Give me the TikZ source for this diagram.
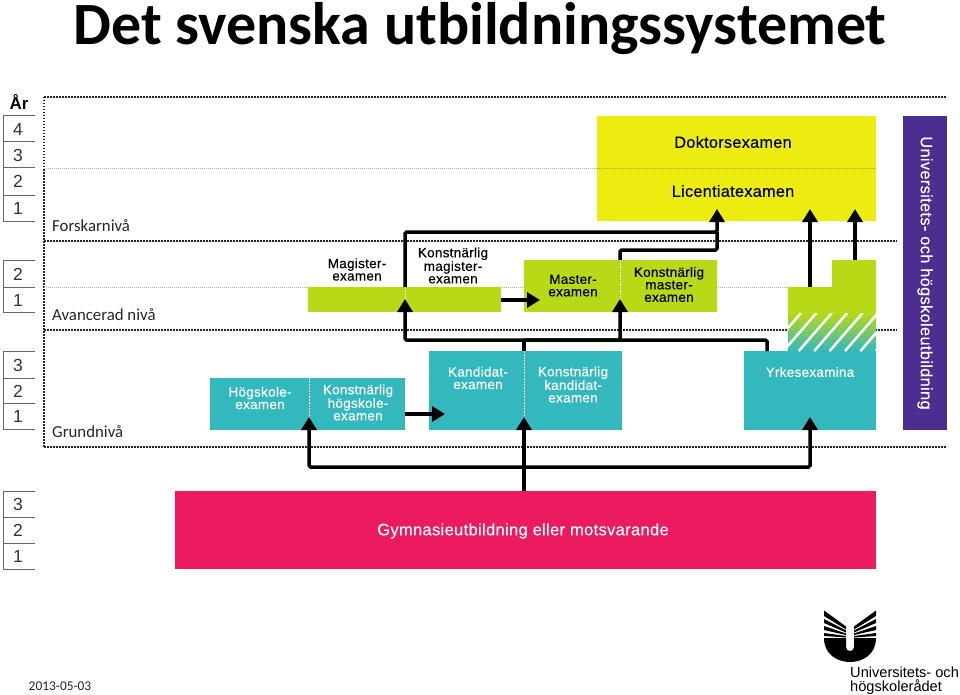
\documentclass[tikz,border=0pt]{standalone}
\usepackage{fontspec}
\setmainfont{Carlito}
\newfontfamily\examfont[LetterSpace=2,FakeBold=0.25]{Liberation Sans}
\newfontfamily\logofont{Liberation Sans}
\usetikzlibrary{positioning,arrows.meta}
\definecolor{examteal}{HTML}{33B8BD}
\definecolor{examgreen}{HTML}{B7D916}
\definecolor{examyellow}{HTML}{EDEC10}
\definecolor{exampurple}{HTML}{4B2E90}
\definecolor{exampink}{HTML}{EC1A5E}
\tikzset{
  exam box/.style={
    fill=#1,
    inner sep=0pt,
    outer sep=0pt,
    anchor=north west,
  },
  exam text/.style={
    font=\examfont\fontsize{13.5}{12.5}\selectfont,
    align=center,
    inner sep=0pt,
    text=#1,
  },
  exam text/.default=black,
  level text/.style={
    font=\fontsize{16.8}{18}\selectfont,
    anchor=west,
    inner sep=0pt,
    text=black!85,
  },
  year text/.style={
    font=\logofont\fontsize{17.5}{18}\selectfont,
    inner sep=0pt,
    text=black!80,
  },
  year rule/.style={
    draw=black!60,
    line width=1pt,
  },
  level line/.style={
    draw=black!85,
    line width=1.5pt,
    dash pattern=on 1.5pt off 1.5pt,
  },
  faint line/.style={
    draw=black!30,
    line width=0.9pt,
    dash pattern=on 1pt off 1pt,
  },
  split line/.style={
    draw=white,
    line width=1pt,
    dash pattern=on 1.5pt off 1.5pt,
  },
  link/.style={
    draw=black,
    line width=3.5pt,
    rounded corners=1.5pt,
  },
  flow/.style={
    link,
    -{Triangle[length=13pt,width=15pt]},
  },
}
\begin{document}
\begin{tikzpicture}[x=1pt,y=-1pt,node distance=0pt]
  \useasboundingbox (0,0) rectangle (960,695);

  \node [font=\bfseries\fontsize{60}{64}\selectfont,inner sep=0pt] (title) at (480,29) {Det svenska utbildningssystemet};

  % level lines
  \draw [level line] (44,97) -- (947,97);
  \draw [level line] (44,97) -- (44,447);
  \draw [level line] (44,447) -- (947,447);
  \draw [level line] (44,241) -- (897,241);
  \draw [level line] (44,330) -- (897,330);
  \draw [faint line] (44,168) -- (597,168);
  \draw [faint line] (44,287) -- (876,287);

  \node [level text] (forskar) at (52,226) {Forskarnivå};
  \node [level text] (avancerad) at (52,315) {Avancerad nivå};
  \node [level text] (grund) at (52,432) {Grundnivå};

  % years
  \node [font=\logofont\bfseries\fontsize{17}{18}\selectfont,inner sep=0pt] (year) at (19,102) {År};
  \draw [year rule] (3,116) -- (3,221);
  \draw [year rule] (3,260) -- (3,312);
  \draw [year rule] (3,351) -- (3,429);
  \draw [year rule] (3,491) -- (3,569);
  \foreach \y in {116,142,168,195,221,260,287,312,351,378,403,429,491,517,543,569}
    \draw [year rule] (3,\y) -- (35,\y);
  \foreach \n/\t/\y in {a/4/129,b/3/155,c/2/181,d/1/208,e/2/274,f/1/300,g/3/365,h/2/391,i/1/416,j/3/504,k/2/530,l/1/556}
    \node [year text] (year\n) at (18,\y) {\t};

  % blocks
  \node [exam box=examteal,minimum width=99pt,minimum height=52pt] (hogskole) at (210,378) {};
  \node [exam box=examteal,minimum width=96pt,minimum height=52pt,right=of hogskole] (khogskole) {};
  \node [exam box=examteal,minimum width=95pt,minimum height=79pt] (kandidat) at (429,351) {};
  \node [exam box=examteal,minimum width=98pt,minimum height=79pt,right=of kandidat] (kkandidat) {};
  \node [exam box=examgreen,minimum width=97pt,minimum height=25pt] (magister) at (308,287) {};
  \node [exam box=examgreen,minimum width=96pt,minimum height=25pt,right=of magister] (kmagister) {};
  \node [exam box=examgreen,minimum width=96pt,minimum height=52pt] (master) at (524,260) {};
  \node [exam box=examgreen,minimum width=97pt,minimum height=52pt,right=of master] (kmaster) {};
  \node [exam box=examyellow,minimum width=279pt,minimum height=105pt] (forskning) at (597,116) {};
  \node [exam box=examteal,minimum width=132pt,minimum height=79pt] (yrke) at (744,351) {};
  \node [exam box=examgreen,minimum width=88pt,minimum height=26pt] (yrkegreen) at (788,287) {};
  \node [exam box=examgreen,minimum width=44pt,minimum height=27pt] (yrketop) at (832,260) {};
  \node [exam box=exampink,minimum width=701pt,minimum height=78pt] (gymnasie) at (175,491) {};
  \node [fill=exampurple,inner sep=0pt,minimum width=314pt,minimum height=44pt,rotate=-90,text=white,font=\examfont\fontsize{16.4}{18}\selectfont] (universitet) at (925,273) {Universitets- och högskoleutbildning};

  % hatch
  \begin{scope}
    \clip (788,313) rectangle (876,351);
    \shade [top color=examgreen,bottom color=examteal] (788,313) rectangle (876,351);
    \foreach \x in {801,816.4,...,925}
      \draw [white,line width=2.5pt] (\x,313) -- (\x-33,351);
  \end{scope}

  \draw [faint line,draw=black!30!examyellow] (597,168) -- (876,168);
  \draw [split line] (hogskole.north east) -- (hogskole.south east);
  \draw [split line] (kandidat.north east) -- (kandidat.south east);
  \draw [split line] (magister.north east) -- (magister.south east);
  \draw [split line] (master.north east) -- (master.south east);

  % texts
  \node [exam text=white] (hogskoletext) at (260,398) {Högskole-\\examen};
  \node [exam text=white] (khogskoletext) at (358,402.5) {Konstnärlig\\högskole-\\examen};
  \node [exam text=white] (kandidattext) at (478,378) {Kandidat-\\examen};
  \node [exam text=white] (kkandidattext) at (573,384.5) {Konstnärlig\\kandidat-\\examen};
  \node [exam text] (magistertext) at (357,269.5) {Magister-\\examen};
  \node [exam text] (kmagistertext) at (453,265.5) {Konstnärlig\\magister-\\examen};
  \node [exam text] (mastertext) at (573,285.5) {Master-\\examen};
  \node [exam text] (kmastertext) at (669,284.5) {Konstnärlig\\master-\\examen};
  \node [exam text=white] (yrketext) at (810,372) {Yrkesexamina};
  \node [exam text,font=\examfont\fontsize{16.2}{18}\selectfont] (doktor) at (733,142) {Doktorsexamen};
  \node [exam text,font=\examfont\fontsize{16.2}{18}\selectfont] (licentiat) at (733,191) {Licentiatexamen};
  \node [exam text=white,font=\examfont\fontsize{16.5}{18}\selectfont] (gymnasietext) at (523,531) {Gymnasieutbildning eller motsvarande};

  % connectors
  \coordinate (hogskoletip) at (309,417);
  \coordinate (kandidattip) at (524,417);
  \coordinate (yrketip) at (810,417);
  \coordinate (gymnasiejoin) at (524,467);
  \coordinate (kandidatin) at (445,414);
  \coordinate (masterin) at (540,300);
  \coordinate (magistertip) at (405,299);
  \coordinate (mastertip) at (620,299);
  \coordinate (kandidatjoin) at (524,340);
  \coordinate (yrkeout) at (767,351);
  \coordinate (licentiattip) at (717,209);
  \coordinate (magisterjoin) at (717,232);
  \coordinate (masterjoin) at (717,250);
  \coordinate (yrketipa) at (810,209);
  \coordinate (yrketipb) at (855,209);

  \draw [flow] (gymnasie.north -| kandidattip) -- (kandidattip);
  \draw [flow] (gymnasiejoin) -| (hogskoletip);
  \draw [flow] (gymnasiejoin) -| (yrketip);
  \draw [flow] (khogskole.east |- kandidatin) -- (kandidatin);
  \draw [flow] (kmagister.east |- masterin) -- (masterin);
  \draw [link] (kandidat.north east) -- (kandidatjoin);
  \draw [flow] (kandidatjoin) -| (magistertip);
  \draw [flow] (kandidatjoin) -| (mastertip);
  \draw [link] (kandidatjoin) -| (yrkeout);
  \draw [flow] (magister.north east) |- (magisterjoin) -- (licentiattip);
  \draw [link] (master.north east) |- (masterjoin) -- (magisterjoin);
  \draw [flow] (yrketipa |- yrkegreen.north) -- (yrketipa);
  \draw [flow] (yrketipb |- yrketop.north) -- (yrketipb);

  % logo
  \foreach \s in {1,-1} {
    \begin{scope}[shift={(850,0)},xscale=\s]
      \fill (-26,610.5) -- (-26,616) -- (-4,629.5) -- (-4,626.5) -- cycle;
      \fill (-26,619) -- (-26,623) -- (-4,632.5) -- (-4,630.5) -- cycle;
      \fill (-26,626) -- (-26,630) -- (-4,635) -- (-4,633.5) -- cycle;
      \fill (-26,633) -- (-26,636) -- (-4,637.5) -- (-4,636) -- cycle;
    \end{scope}
  }
  \fill (824,638) .. controls (824,655) and (838,662) .. (850,662) .. controls (862,662) and (876,655) .. (876,638) -- (854,638) -- (854,647) .. controls (854,652.3) and (846,652.3) .. (846,647) -- (846,638) -- cycle;
  \node [font=\logofont\fontsize{14.6}{13.5}\selectfont,align=left,anchor=north west,inner sep=0pt] (logotext) at (850,667) {Universitets- och\\högskolerådet};

  \node [font=\fontsize{13.4}{14}\selectfont,inner sep=0pt,text=black!85] (datum) at (60,686) {2013-05-03};
\end{tikzpicture}
\end{document}
